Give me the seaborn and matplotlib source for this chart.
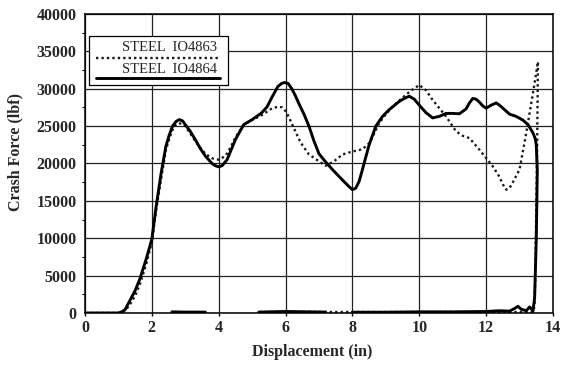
import numpy as np
import pandas as pd
import seaborn as sns
import matplotlib
matplotlib.use("Agg")
import matplotlib.pyplot as plt
from matplotlib.lines import Line2D
from matplotlib.patches import Rectangle

# ---- data ----
series_names = ["STEEL  IO4863", "STEEL  IO4864"]

# IO4864 (solid) loading curve + drop
disp_4864 = [0, 0.5, 1.0, 1.1, 1.2, 1.34, 1.5, 1.64, 1.83, 2.0, 2.13, 2.28, 2.42, 2.52, 2.62, 2.72, 2.82,
             2.92, 3.0, 3.15, 3.3, 3.45, 3.6, 3.8, 3.9, 4.0, 4.1, 4.25, 4.5, 4.75, 5.0, 5.28, 5.45, 5.58,
             5.77, 5.88, 5.97, 6.08, 6.2, 6.3,
             6.4, 6.55, 6.7, 6.85, 7.0, 7.2, 7.4, 7.7, 7.9, 8.0, 8.1, 8.2, 8.3, 8.5, 8.7, 8.9, 9.1, 9.4,
             9.55, 9.7, 9.85, 10.0, 10.2, 10.4, 10.6, 10.8, 11.0, 11.2, 11.4, 11.5, 11.6, 11.7, 11.8, 11.9,
             12.0, 12.15, 12.3, 12.4, 12.5, 12.7,
             12.9, 13.1, 13.25, 13.4, 13.47, 13.5, 13.53, 13.5, 13.45, 13.4]
force_4864 = [0, 0, 0, 150, 450, 1640, 3000, 4530, 7200, 9870, 14300, 18750, 22300, 23800, 25000, 25600, 25870,
              25700, 25200, 24300, 23200, 22000, 21000, 20000, 19700, 19550, 19700, 20500, 23200, 25200, 25870, 26750, 27600, 28750,
              30300, 30700, 30840, 30700, 29900, 29000,
              28000, 26600, 25000, 23000, 21300, 20200, 19200, 17800, 16900, 16500, 16700, 17600, 19200, 22500, 25000, 26300, 27200, 28300,
              28700, 29000, 28600, 27800, 26800, 26100, 26300, 26700, 26700, 26650, 27300, 28100, 28700, 28600, 28200, 27700,
              27400, 27800, 28100, 27800, 27400, 26600,
              26300, 25800, 25200, 24100, 23300, 22500, 19000, 10000, 2000, 300]
# IO4864 unloading trace near zero (three visible pieces)
ret_4864_a_x = [13.4, 13.3, 13.2, 13.05, 12.95, 12.85, 12.7, 12.4, 12.0, 11.0, 10.0, 9.0, 8.0]
ret_4864_a_y = [300, 800, 300, 500, 900, 600, 250, 300, 200, 150, 150, 100, 100]
ret_4864_b_x = [7.2, 6.0, 5.2]
ret_4864_b_y = [120, 200, 120]
ret_4864_c_x = [3.6, 3.0, 2.6]
ret_4864_c_y = [120, 120, 150]

# IO4863 (dotted) loading curve + drop
disp_4863 = [0, 0.5, 1.0, 1.1, 1.2, 1.34, 1.5, 1.64, 1.83, 2.0, 2.13, 2.28, 2.42, 2.52, 2.62, 2.7, 2.8,
             2.9, 3.0, 3.15, 3.3, 3.45, 3.6, 3.8, 4.0, 4.2, 4.35, 4.5, 4.75, 5.0, 5.3, 5.6, 5.8, 5.9, 6.0, 6.1, 6.2,
             6.45, 6.7, 7.0, 7.2, 7.45, 7.7, 8.0, 8.3, 8.5, 8.65, 8.8, 9.0, 9.2, 9.6, 9.8, 10.0, 10.2,
             10.4, 10.8, 11.1, 11.3, 11.5, 11.8, 12.2, 12.4, 12.5, 12.6, 12.7, 12.8, 13.0, 13.2, 13.4, 13.55,
             13.52, 13.48, 13.45, 13.4]
force_4863 = [0, 0, 0, 100, 300, 1100, 2300, 3800, 6500, 9500, 13800, 18000, 21800, 23300, 24500, 25100, 25400,
              25300, 25000, 24000, 23000, 22100, 21300, 20700, 20500, 21000, 22100, 23500, 25200, 25800, 26500, 27400, 27600, 27500, 27000, 26200, 25200,
              22800, 21200, 20300, 19700, 20300, 21200, 21600, 21900, 22700, 24000, 25400, 26600, 27600, 29200, 29900, 30500, 29800,
              28500, 26300, 24300, 23700, 23400, 21850, 19600, 18200, 17200, 16500, 16700, 17500, 19200, 24100, 29400, 33600,
              20000, 8000, 1000, 0]
ret_4863_x = [13.4, 12.0, 10.0, 8.0, 7.0, 6.0, 5.5]
ret_4863_y = [80, 80, 80, 80, 80, 80, 80]

x_ticks = [0, 2, 4, 6, 8, 10, 12, 14]
y_ticks = [0, 5000, 10000, 15000, 20000, 25000, 30000, 35000, 40000]

# ---- build long table ----
frames = []
def add(xs, ys, name, seg):
    frames.append(pd.DataFrame({"disp": xs, "force": ys, "series": name,
                                "seg": seg, "order": range(len(xs))}))
add(disp_4863, force_4863, series_names[0], "d_load")
add(ret_4863_x, ret_4863_y, series_names[0], "d_ret")
add(disp_4864, force_4864, series_names[1], "s_load")
add(ret_4864_a_x, ret_4864_a_y, series_names[1], "s_ra")
add(ret_4864_b_x, ret_4864_b_y, series_names[1], "s_rb")
add(ret_4864_c_x, ret_4864_c_y, series_names[1], "s_rc")
df = pd.concat(frames, ignore_index=True)

sns.set_style("white")
plt.rcParams["font.family"] = ["Liberation Serif", "DejaVu Serif"]

fig = plt.figure(figsize=(5.68, 3.73), dpi=100)
ax = fig.add_axes([0.1496, 0.1609, 0.824, 0.8016])

ax.set_axisbelow(True)
ax.grid(True, color="#222222", linewidth=0.9)

d = df[df["series"] == series_names[0]]
sns.lineplot(data=d, x="disp", y="force", units="seg", estimator=None, sort=False,
             color="#1a1a1a", linewidth=1.7, linestyle=(0, (1, 1.3)), ax=ax, legend=False)
s = df[df["series"] == series_names[1]]
sns.lineplot(data=s, x="disp", y="force", units="seg", estimator=None, sort=False,
             color="#000000", linewidth=2.1, ax=ax, legend=False)

ax.set_xlim(0, 14)
ax.set_ylim(0, 40000)
ax.set_xticks(x_ticks)
ax.set_yticks(y_ticks)
ax.set_yticks(np.arange(2500, 40000, 5000), minor=True)
ax.set_xticklabels([str(v) for v in x_ticks], fontsize=11.5, fontweight="bold")
ax.set_yticklabels([str(v) for v in y_ticks], fontsize=11.5, fontweight="bold")
ax.tick_params(axis="y", which="major", direction="out", length=4, width=1, pad=2, color="black")
ax.tick_params(axis="y", which="minor", direction="out", length=2.5, width=0.8, color="black", left=True)
ax.tick_params(axis="x", which="major", direction="out", length=2, width=1, pad=3, color="black", bottom=True)
for sp in ax.spines.values():
    sp.set_color("black")
    sp.set_linewidth(1.1)
    sp.set_visible(True)

ax.set_xlabel("Displacement (in)", fontsize=11.5, fontweight="bold")
ax.set_ylabel("Crash Force (lbf)", fontsize=11.5, fontweight="bold")
ax.xaxis.set_label_coords(0.485, -0.105)
ax.yaxis.set_label_coords(-0.132, 0.54)

# ---- legend (text above a line sample) ----
ax.add_patch(Rectangle((0.009, 0.7625), 0.297, 0.1635, transform=ax.transAxes,
                       facecolor="white", edgecolor="black", linewidth=0.9, zorder=5))
ax.text(0.282, 0.866, series_names[0], transform=ax.transAxes, ha="right", va="bottom",
        fontsize=10.5, zorder=6)
ax.add_line(Line2D([0.0235, 0.288], [0.853, 0.853], transform=ax.transAxes, color="#1a1a1a",
                   linewidth=1.7, linestyle=(0, (1, 1.3)), zorder=6))
ax.text(0.282, 0.792, series_names[1], transform=ax.transAxes, ha="right", va="bottom",
        fontsize=10.5, zorder=6)
ax.add_line(Line2D([0.0235, 0.288], [0.786, 0.786], transform=ax.transAxes, color="black",
                   linewidth=2.1, zorder=6))

fig.savefig("out.png", dpi=100)
